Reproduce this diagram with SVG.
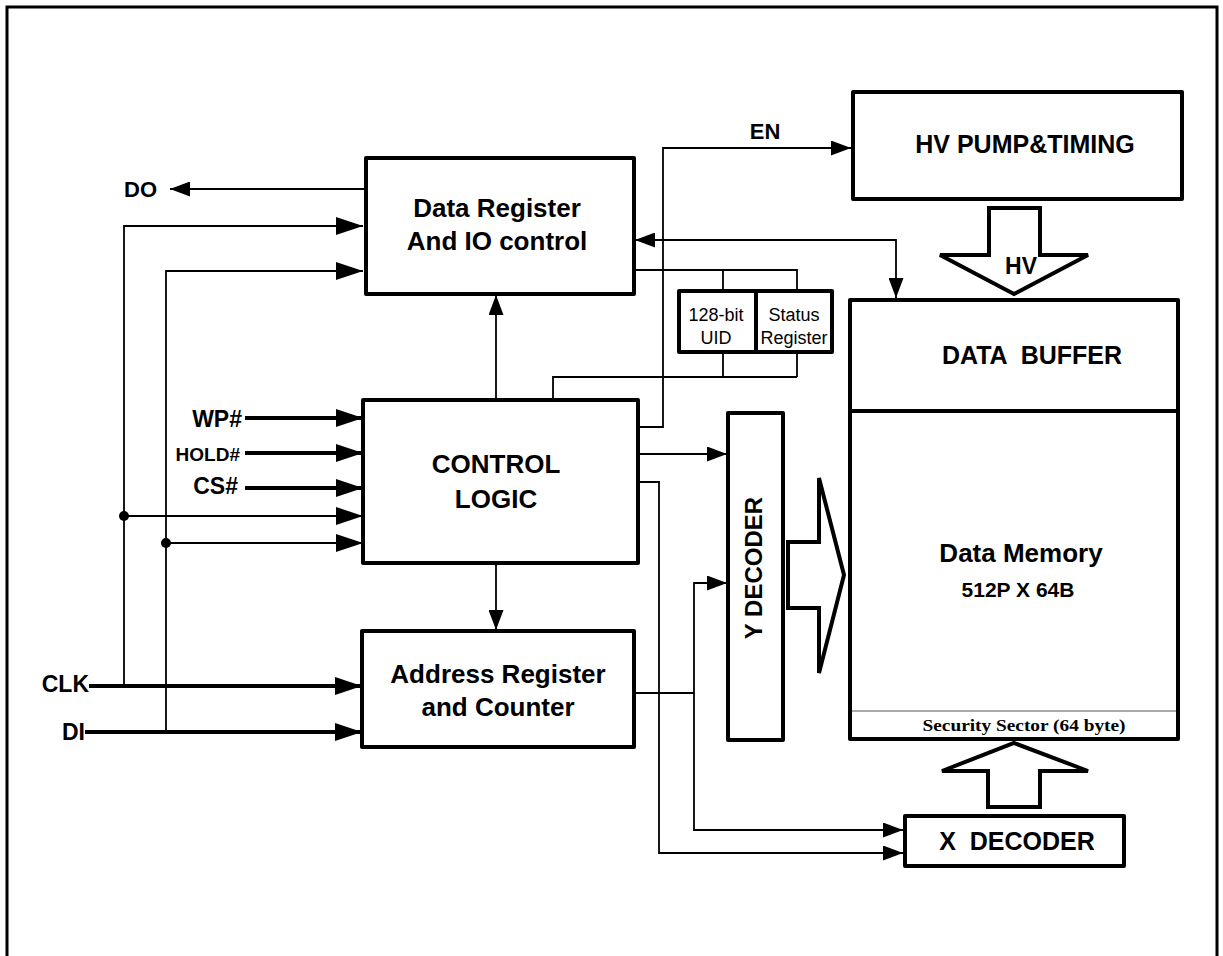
<svg xmlns="http://www.w3.org/2000/svg" width="1223" height="956" viewBox="0 0 1223 956">
<defs>
<marker id="big" markerUnits="userSpaceOnUse" markerWidth="27" markerHeight="18" refX="27" refY="9" orient="auto"><path d="M0,0 L27,9 L0,18 Z" fill="#000"/></marker>
<marker id="sm" markerUnits="userSpaceOnUse" markerWidth="20" markerHeight="15" refX="20" refY="7.5" orient="auto-start-reverse"><path d="M0,0 L20,7.5 L0,15 Z" fill="#000"/></marker>
<style>
.box{fill:#fff;stroke:#000;stroke-width:4;stroke-linejoin:round}
.ln{fill:none;stroke:#000;stroke-width:1.8}
.thk{fill:none;stroke:#000;stroke-width:4}
.hol{fill:#fff;stroke:#000;stroke-width:4;stroke-linejoin:miter}
text{font-family:"Liberation Sans",Arial,sans-serif;font-weight:bold;fill:#000;white-space:pre}
.c{text-anchor:middle}
.e{text-anchor:end}
.reg{font-weight:normal;font-size:18px}
.ser{font-family:"Liberation Serif","Times New Roman",serif;font-weight:bold}
</style>
</defs>
<rect width="1223" height="956" fill="#fff"/>
<path d="M7,960 V7 H1217 V960" fill="none" stroke="#000" stroke-width="3"/>

<g id="connectors">
<line class="ln" x1="366" y1="189" x2="170" y2="189" marker-end="url(#sm)"/>
<path class="ln" d="M124,686 V226 H363" marker-end="url(#big)"/>
<path class="ln" d="M166,732 V271 H363" stroke-width="2.5" marker-end="url(#big)"/>
<line class="ln" x1="124" y1="516" x2="363" y2="516" marker-end="url(#big)"/>
<line class="ln" x1="166" y1="543" x2="363" y2="543" marker-end="url(#big)"/>
<circle cx="124" cy="516" r="5"/>
<circle cx="166" cy="543" r="5"/>
<line class="thk" x1="245" y1="418" x2="363" y2="418" marker-end="url(#big)"/>
<line class="thk" x1="245" y1="453" x2="363" y2="453" marker-end="url(#big)"/>
<line class="thk" x1="245" y1="488" x2="363" y2="488" marker-end="url(#big)"/>
<line class="thk" x1="89" y1="686" x2="362" y2="686" marker-end="url(#big)"/>
<line class="thk" x1="85" y1="732" x2="362" y2="732" marker-end="url(#big)"/>
<line class="ln" x1="496" y1="400" x2="496" y2="295" marker-end="url(#sm)"/>
<line class="ln" x1="496" y1="563" x2="496" y2="630" marker-end="url(#sm)"/>
<path class="ln" d="M638,427 H663 V148 H851" marker-end="url(#sm)"/>
<line class="ln" x1="638" y1="454" x2="727" y2="454" marker-end="url(#sm)"/>
<path class="ln" d="M638,482 H659 V853 H903" marker-end="url(#sm)"/>
<path class="ln" d="M634,693 H694"/>
<path class="ln" d="M903,830 H694 V583 H727" marker-start="url(#sm)" marker-end="url(#sm)"/>
<path class="ln" d="M635,240 H896 V298" marker-start="url(#sm)" marker-end="url(#sm)"/>
<path class="ln" d="M635,270 H797 V291 M723,270 V291"/>
<path class="ln" d="M723,352 V377 M797,352 V377 M553,400 V377 H797"/>
</g>

<g id="data-register">
<rect class="box" x="366" y="158" width="268" height="136"/>
<text class="c" x="497" y="217" font-size="26">Data Register</text>
<text class="c" x="497" y="250" font-size="26">And IO control</text>
</g>
<g id="do-label"><text x="124" y="197" font-size="22">DO</text></g>

<g id="control-logic">
<rect class="box" x="363" y="400" width="275" height="163"/>
<text class="c" x="496" y="473" font-size="26">CONTROL</text>
<text class="c" x="496" y="508" font-size="26">LOGIC</text>
</g>
<g id="inputs">
<text class="e" x="242" y="427" font-size="23">WP#</text>
<text class="e" x="240" y="461" font-size="19">HOLD#</text>
<text class="e" x="238" y="494" font-size="23">CS#</text>
<text class="e" x="89" y="692" font-size="23">CLK</text>
<text class="e" x="85" y="740" font-size="23">DI</text>
</g>

<g id="address-register">
<rect class="box" x="362" y="631" width="272" height="116"/>
<text class="c" x="498" y="683" font-size="26">Address Register</text>
<text class="c" x="498" y="716" font-size="26">and Counter</text>
</g>

<g id="uid-status">
<rect class="box" x="679" y="291" width="153" height="61"/>
<line x1="756" y1="291" x2="756" y2="352" stroke="#000" stroke-width="4"/>
<text class="c reg" x="716" y="321">128-bit</text>
<text class="c reg" x="716" y="344">UID</text>
<text class="c reg" x="794" y="321">Status</text>
<text class="c reg" x="794" y="344">Register</text>
</g>

<g id="en-label"><text class="c" x="765" y="139" font-size="22">EN</text></g>

<g id="hv-pump">
<rect class="box" x="853" y="92" width="329" height="107"/>
<text class="c" x="1025" y="153" font-size="25">HV PUMP&amp;TIMING</text>
</g>

<g id="hv-arrow">
<polygon class="hol" points="989,208 1040,208 1040,255 1088,255 1014,294 940,255 989,255"/>
<text class="c" x="1021" y="274" font-size="23">HV</text>
</g>

<g id="memory">
<rect class="box" x="850" y="300" width="328" height="439"/>
<line x1="850" y1="411" x2="1178" y2="411" stroke="#000" stroke-width="4"/>
<line x1="852" y1="711" x2="1176" y2="711" stroke="#555" stroke-width="1.2"/>
<text class="c" x="1032" y="364" font-size="25">DATA  BUFFER</text>
<text class="c" x="1021" y="562" font-size="26">Data Memory</text>
<text class="c" x="1018" y="597" font-size="21">512P X 64B</text>
<text class="c ser" x="1024" y="731" font-size="17" textLength="203" lengthAdjust="spacingAndGlyphs">Security Sector (64 byte)</text>
</g>

<g id="y-decoder">
<rect class="box" x="728" y="413" width="55" height="327"/>
<text class="c" transform="translate(762,568) rotate(-90)" font-size="24">Y DECODER</text>
</g>

<g id="y-arrow">
<polygon class="hol" points="788,542 819,542 819,478 844,575 819,673 819,608 788,608"/>
</g>

<g id="x-arrow">
<polygon class="hol" points="988,807 1040,807 1040,771 1088,771 1014,743 942,771 988,771"/>
</g>

<g id="x-decoder">
<rect class="box" x="905" y="816" width="219" height="50"/>
<text class="c" x="1017" y="850" font-size="25">X  DECODER</text>
</g>
</svg>
